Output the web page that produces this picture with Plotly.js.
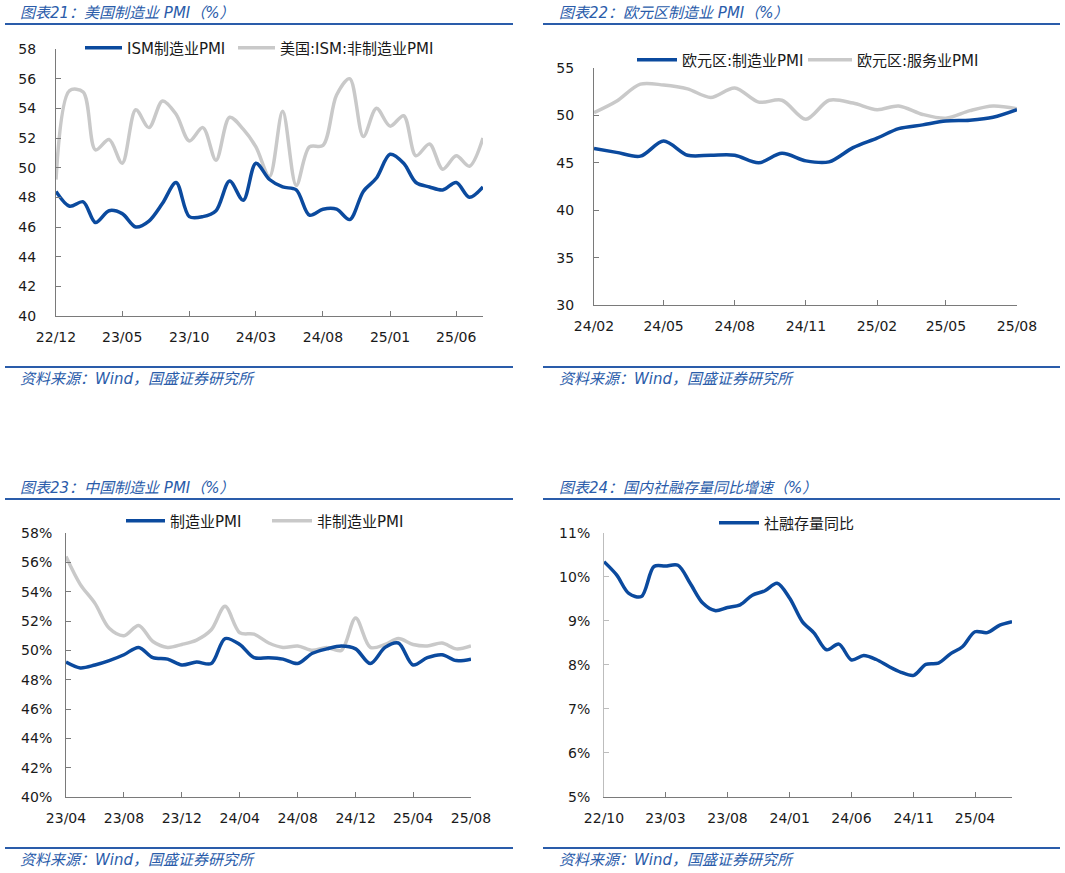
<!DOCTYPE html>
<html><head><meta charset="utf-8">
<script src="https://cdn.plot.ly/plotly-3.0.1.min.js"></script>
<style>html,body{margin:0;padding:0;background:#fff}#chart{width:1065px;height:873px}</style>
</head><body><div id="chart"></div>
<script>
// ---------- data ----------
const usMonths = ['2022-12','2023-01','2023-02','2023-03','2023-04','2023-05','2023-06','2023-07','2023-08','2023-09','2023-10','2023-11','2023-12',
  '2024-01','2024-02','2024-03','2024-04','2024-05','2024-06','2024-07','2024-08','2024-09','2024-10','2024-11','2024-12',
  '2025-01','2025-02','2025-03','2025-04','2025-05','2025-06','2025-07','2025-08'];
const usMfg = [48.4,47.4,47.7,46.3,47.1,46.9,46.0,46.4,47.6,49.0,46.7,46.7,47.1,49.1,47.8,50.3,49.2,48.7,48.5,46.8,47.2,47.2,46.5,48.4,49.3,50.9,50.3,49.0,48.7,48.5,49.0,48.0,48.7];
const usNonMfg = [49.2,55.2,55.1,51.2,51.9,50.3,53.9,52.7,54.5,53.6,51.8,52.7,50.5,53.4,52.6,51.4,49.4,53.8,48.8,51.4,51.5,54.9,56.0,52.1,54.0,52.8,53.5,50.8,51.6,49.9,50.8,50.1,52.0];
const usTicks = {tick0:'2022-12-01', dtick:'M5', range:['2022-12-01','2025-08-01']};

const euMonths = ['2024-02','2024-03','2024-04','2024-05','2024-06','2024-07','2024-08','2024-09','2024-10','2024-11','2024-12',
  '2025-01','2025-02','2025-03','2025-04','2025-05','2025-06','2025-07','2025-08'];
const euMfg = [46.5,46.1,45.7,47.3,45.8,45.8,45.8,45.0,46.0,45.2,45.1,46.6,47.6,48.6,49.0,49.4,49.5,49.8,50.6];
const euSvc = [50.3,51.5,53.3,53.2,52.8,51.9,52.9,51.4,51.6,49.6,51.6,51.3,50.6,51.0,50.1,49.7,50.5,51.0,50.7];
const euTicks = {tick0:'2024-02-01', dtick:'M3', range:['2024-02-01','2025-08-01']};

const cnMonths = ['2023-04','2023-05','2023-06','2023-07','2023-08','2023-09','2023-10','2023-11','2023-12',
  '2024-01','2024-02','2024-03','2024-04','2024-05','2024-06','2024-07','2024-08','2024-09','2024-10','2024-11','2024-12',
  '2025-01','2025-02','2025-03','2025-04','2025-05','2025-06','2025-07','2025-08'];
const cnMfg = [49.2,48.8,49.0,49.3,49.7,50.2,49.5,49.4,49.0,49.2,49.1,50.8,50.4,49.5,49.5,49.4,49.1,49.8,50.1,50.3,50.1,49.1,50.2,50.5,49.0,49.5,49.7,49.3,49.4];
const cnNonMfg = [56.4,54.5,53.2,51.5,51.0,51.7,50.6,50.2,50.4,50.7,51.4,53.0,51.2,51.1,50.5,50.2,50.3,50.0,50.2,50.0,52.2,50.2,50.4,50.8,50.4,50.3,50.5,50.1,50.3];
const cnTicks = {tick0:'2023-04-01', dtick:'M4', range:['2023-04-01','2025-08-01']};

const sfMonths = ['2022-10','2022-11','2022-12','2023-01','2023-02','2023-03','2023-04','2023-05','2023-06','2023-07','2023-08','2023-09','2023-10','2023-11','2023-12',
  '2024-01','2024-02','2024-03','2024-04','2024-05','2024-06','2024-07','2024-08','2024-09','2024-10','2024-11','2024-12',
  '2025-01','2025-02','2025-03','2025-04','2025-05','2025-06','2025-07'];
const sfGrowth = [10.34,10.04,9.62,9.55,10.23,10.24,10.26,9.85,9.40,9.23,9.30,9.36,9.58,9.68,9.85,9.51,8.98,8.72,8.34,8.47,8.11,8.21,8.12,7.96,7.83,7.76,8.01,8.04,8.26,8.41,8.75,8.73,8.90,8.98];
const sfTicks = {tick0:'2022-10-01', dtick:'M5', range:['2022-10-01','2025-07-01']};

const titles = ['图表21：美国制造业 PMI（%）','图表22：欧元区制造业 PMI（%）','图表23：中国制造业 PMI（%）','图表24：国内社融存量同比增速（%）'];
const sourceText = '资料来源：Wind，国盛证券研究所';

// ---------- style ----------
const W = 1065, H = 873;
const px = v => v / W;
const py = v => 1 - v / H;
const BLUE = '#0b4a9e', GREY = '#c9c9c9', HEAD = '#2a5caa';
const TICKFONT = {family:'DejaVu Sans, Verdana, sans-serif', size:14, color:'#1a1a1a'};
const LEGFONT = {family:'DejaVu Sans, Noto Sans CJK SC, sans-serif', size:15, color:'#1a1a1a'};
const HEADFONT = {family:'DejaVu Sans, Noto Sans CJK SC, sans-serif', size:15, color:HEAD, style:'italic'};

function line(color){ return {color:color, width:3.5, shape:'spline', smoothing:0.9}; }

const traces = [
  {x:usMonths, y:usNonMfg, name:'美国:ISM:非制造业PMI', line:line(GREY), xaxis:'x', yaxis:'y', legend:'legend2'},
  {x:usMonths, y:usMfg, name:'ISM制造业PMI', line:line(BLUE), xaxis:'x', yaxis:'y', legend:'legend'},
  {x:euMonths, y:euSvc, name:'欧元区:服务业PMI', line:line(GREY), xaxis:'x2', yaxis:'y2', legend:'legend4'},
  {x:euMonths, y:euMfg, name:'欧元区:制造业PMI', line:line(BLUE), xaxis:'x2', yaxis:'y2', legend:'legend3'},
  {x:cnMonths, y:cnNonMfg, name:'非制造业PMI', line:line(GREY), xaxis:'x3', yaxis:'y3', legend:'legend6'},
  {x:cnMonths, y:cnMfg, name:'制造业PMI', line:line(BLUE), xaxis:'x3', yaxis:'y3', legend:'legend5'},
  {x:sfMonths, y:sfGrowth, name:'社融存量同比', line:line(BLUE), xaxis:'x4', yaxis:'y4', legend:'legend7'}
].map(t => Object.assign({type:'scatter', mode:'lines', hoverinfo:'skip', showlegend:true}, t));

function xax(domain, t, anchor){
  return {domain:domain, anchor:anchor, type:'date', range:t.range, tick0:t.tick0, dtick:t.dtick, tickformat:'%y/%m',
    showline:true, linecolor:'#7a7a7a', linewidth:1, ticks:'inside', ticklen:5, tickcolor:'#7a7a7a',
    showgrid:false, zeroline:false, tickfont:TICKFONT, ticklabelstandoff:8, fixedrange:true};
}
function yax(domain, range, dtick, anchor, suffix, standoff, lc){
  return {domain:domain, anchor:anchor, range:range, dtick:dtick, ticksuffix:suffix||'',
    showline:true, linecolor:lc||'#7a7a7a', linewidth:1, ticks:'inside', ticklen:5, tickcolor:lc||'#7a7a7a',
    showgrid:false, zeroline:false, tickfont:TICKFONT, ticklabelstandoff:standoff, fixedrange:true};
}
function legend(x, y, iw){
  return {orientation:'h', x:px(x), y:py(y), xanchor:'left', yanchor:'middle', font:LEGFONT,
    bgcolor:'rgba(0,0,0,0)', borderwidth:0, itemwidth:iw, itemclick:false, itemdoubleclick:false};
}

const headAnn = (text, x, y) => ({text:text, x:px(x), y:py(y), xref:'paper', yref:'paper', xanchor:'left', yanchor:'middle', showarrow:false, font:HEADFONT});
const hline = (x0, x1, y) => ({type:'line', xref:'paper', yref:'paper', x0:px(x0), x1:px(x1), y0:py(y), y1:py(y), line:{color:HEAD, width:2}});

const layout = {
  width:W, height:H, margin:{l:0, r:0, t:0, b:0}, paper_bgcolor:'#fff', plot_bgcolor:'#fff', showlegend:true,
  xaxis: xax([px(56), px(483)], usTicks, 'y'),
  yaxis: yax([py(316), py(49)], [40,58], 2, 'x', '', 16),
  xaxis2: xax([px(594), px(1017)], euTicks, 'y2'),
  yaxis2: yax([py(305), py(68)], [30,55], 5, 'x2', '', 16),
  xaxis3: xax([px(66), px(471)], cnTicks, 'y3'),
  yaxis3: yax([py(797), py(533)], [40,58], 2, 'x3', '%', 10),
  xaxis4: xax([px(604), px(1012)], sfTicks, 'y4'),
  yaxis4: yax([py(797), py(532.6)], [5,11], 1, 'x4', '%', 10, '#bdbdbd'),
  legend:  legend(80, 48, 37),
  legend2: legend(233, 48, 37),
  legend3: legend(632, 60, 40),
  legend4: legend(803, 60, 44),
  legend5: legend(121, 521, 39),
  legend6: legend(267, 521, 40),
  legend7: legend(714, 523, 40),
  annotations: [
    headAnn(titles[0], 18, 13), headAnn(titles[1], 557, 13),
    headAnn(titles[2], 18, 488), headAnn(titles[3], 557, 488),
    headAnn(sourceText, 18, 379), headAnn(sourceText, 557, 379),
    headAnn(sourceText, 18, 860), headAnn(sourceText, 557, 860)
  ],
  shapes: [
    hline(5, 513, 24), hline(543, 1060, 24), hline(5, 513, 367), hline(543, 1060, 367),
    hline(5, 513, 499), hline(543, 1060, 499), hline(5, 513, 848), hline(543, 1060, 848)
  ]
};

Plotly.newPlot('chart', traces, layout, {displayModeBar:false, staticPlot:true});
</script></body></html>
